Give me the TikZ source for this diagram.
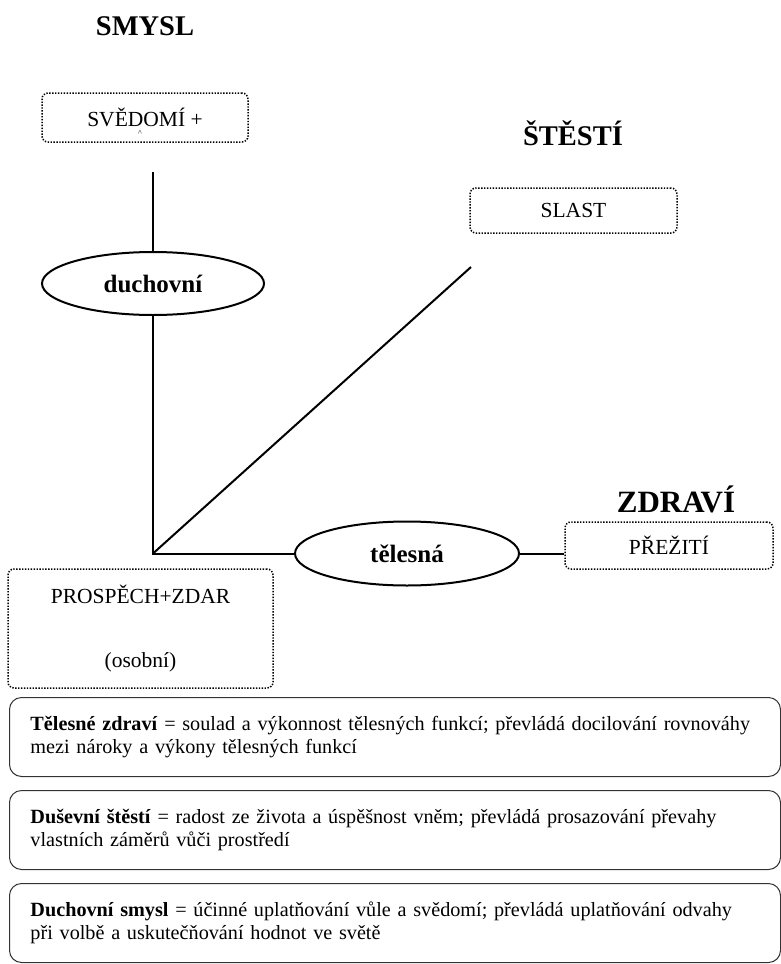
\documentclass[tikz,border=0pt]{standalone}
\usepackage{fontspec}
\setmainfont{Liberation Serif}
\usetikzlibrary{shapes.geometric,positioning}
\tikzset{
  hlava/.style={
    font = \fontsize{28.5}{30}\selectfont\bfseries,
    inner sep = 0pt,
    anchor = base
  },
  pojem/.style={
    shape = rectangle,
    draw,
    rounded corners = 6pt,
    line width = 1.5pt,
    dash pattern = on 1.4pt off 1.5pt,
    inner sep = 0pt,
    align = center,
    font = \fontsize{21.5}{25}\selectfont
  },
  oblast/.style={
    shape = ellipse,
    draw,
    line width = 2pt,
    inner sep = 0pt,
    font = \fontsize{25}{27}\selectfont\bfseries
  },
  vetev/.style={
    line width = 2pt
  },
  popis/.style={
    shape = rectangle,
    draw = black!80,
    rounded corners = 12pt,
    line width = 1pt,
    anchor = north west,
    align = left,
    text width = 729pt,
    inner xsep = 21pt,
    inner ysep = 0pt,
    minimum height = 79pt,
    font = \fontsize{20.2}{23}\selectfont
  }
}

\begin{document}
\begin{tikzpicture}[x=1pt, y=-1pt]
    \useasboundingbox (0,0) rectangle (781,964);
    % nadpisy
    \node[hlava] (smysl) at (145,35) {SMYSL};
    \node[hlava] (stesti) at (573,145) {ŠTĚSTÍ};
    \node[hlava, font=\fontsize{31}{32}\selectfont\bfseries] (zdravi) at (676,512) {ZDRAVÍ};
    % ramecky
    \node[pojem, minimum width=206pt, minimum height=49pt] (svedomi) at (145,117.5) {SVĚDOMÍ +};
    \node[font=\fontsize{8}{8}\selectfont, inner sep=0pt] (strizka) at (140,133) {\textasciicircum};
    \node[pojem, minimum width=207pt, minimum height=45pt] (slast) at (573.5,210.5) {SLAST};
    \node[pojem, minimum width=208pt, minimum height=47pt] (prezit) at (669,545.5) {PŘEŽITÍ};
    \node[pojem, minimum width=265pt, minimum height=119pt] (prospech) at (140.5,628.5) {PROSPĚCH+ZDAR\\[39pt](osobní)};
    % osy
    \node[oblast, minimum width=222pt, minimum height=63pt] (duch) at (153,283.5) {duchovní};
    \node[oblast, minimum width=224pt, minimum height=64pt] (teles) at (407,553.5) {tělesná};
    \coordinate (horni) at (153,172);
    \coordinate (roh) at (153,553.5);
    \coordinate (sikmo) at (471,267);
    \draw[vetev] (horni) -- (duch.north);
    \draw[vetev] (duch.south) -- (roh) -- (teles.west);
    \draw[vetev] (roh) -- (sikmo);
    \draw[vetev] (teles.east) -- (teles.east -| prezit.west);
    % vysvetlivky
    \node[popis] (telo) at (9,697) {\mbox{\textbf{Tělesné zdraví} = soulad a výkonnost tělesných funkcí; převládá docilování rovnováhy}\\mezi nároky a výkony tělesných funkcí};
    \node[popis] (duse) at (9,790) {\mbox{\textbf{Duševní štěstí} = radost ze života a úspěšnost vněm; převládá prosazování převahy}\\vlastních záměrů vůči prostředí};
    \node[popis] (duchsm) at (9,883) {\mbox{\textbf{Duchovní smysl} = účinné uplatňování vůle a svědomí; převládá uplatňování odvahy}\\při volbě a uskutečňování hodnot ve světě};
\end{tikzpicture}
\end{document}
